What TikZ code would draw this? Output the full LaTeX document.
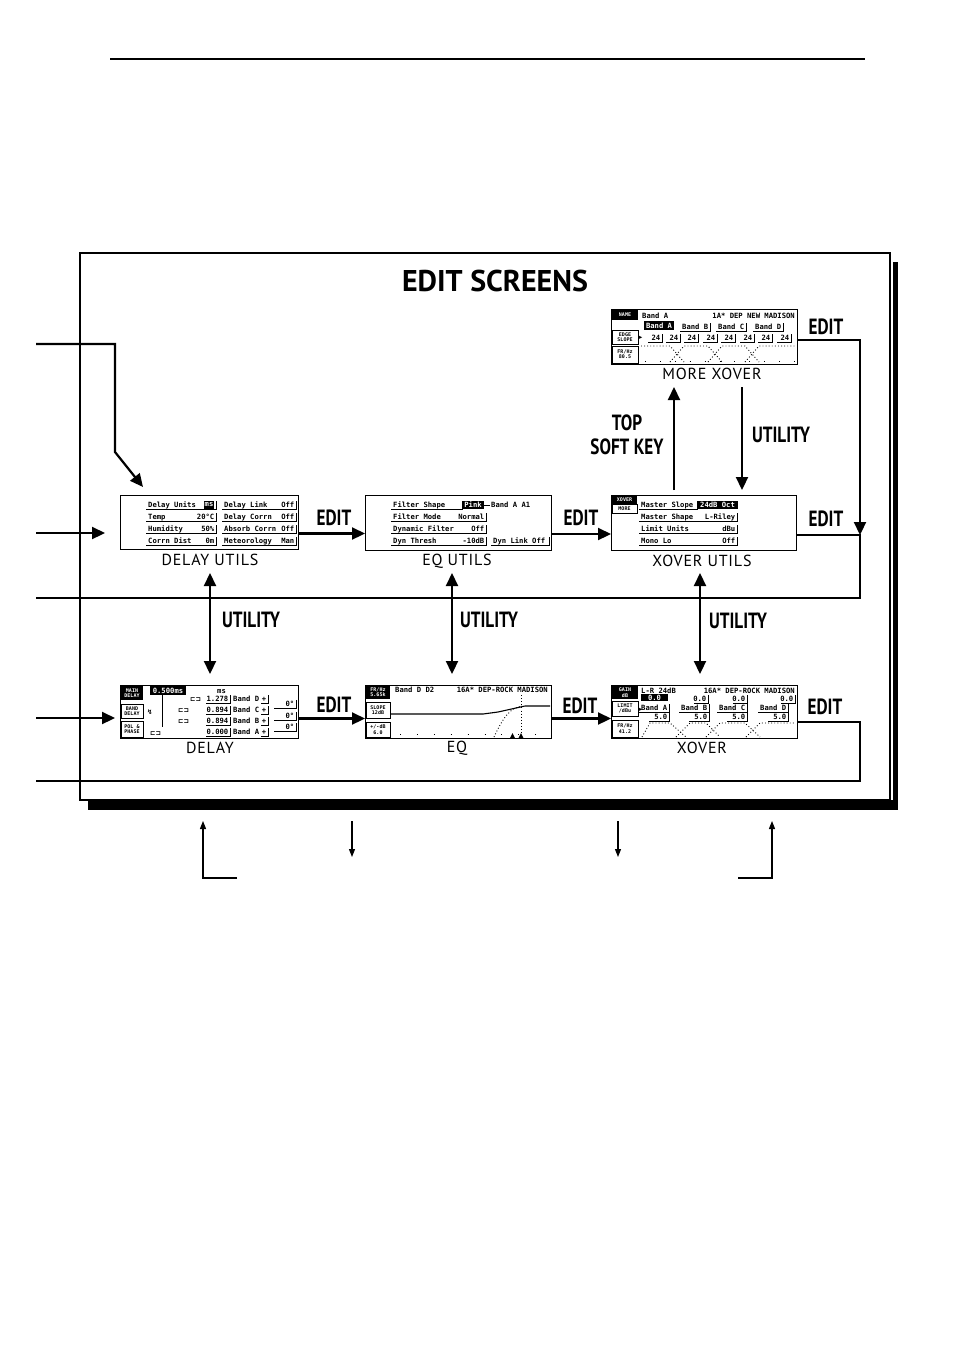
\documentclass[tikz,border=0pt]{standalone}
\usepackage{fontspec}
\setmainfont{PT Sans}
\newfontfamily\hdf[FakeStretch=0.78]{PT Sans}
\newfontfamily\capf[LetterSpace=5]{PT Sans}
\newfontfamily\lcdf{DejaVu Sans Mono}
\newfontfamily\symf{DejaVu Sans}
\usetikzlibrary{arrows.meta,calc}
\newcounter{lc}
\newcommand\lcdT[4][lw]{\stepcounter{lc}\node[#1] (lc\arabic{lc}) at (#2,#3) {#4};}
\newcommand\lcdU[3]{\draw[ul] (#1,#3+2) -- (#2,#3+2) -- (#2,#3-6);}
\newcommand\lcdV[4]{\lcdT[le]{#1-1.5}{#2}{#4}\lcdU{#1-#3}{#1}{#2}}
\newcommand\lcdI[6][tiny2]{\fill (#2,#3) rectangle (#4,#5); \stepcounter{lc}\node[#1, text=white, anchor=center, align=center] (lc\arabic{lc}) at ($(#2,#3)!0.5!(#4,#5)$) {#6};}
\newcommand\lcdB[5]{\draw[line width=0.7pt] (#1,#2) rectangle (#3,#4); \stepcounter{lc}\node[tiny2] (lc\arabic{lc}) at ($(#1,#2)!0.5!(#3,#4)$) {#5};}
\tikzset{
 scr/.style={draw, line width=1pt, inner sep=0pt, anchor=north west, fill=white},
 lcdt/.style={font=\lcdf\bfseries\fontsize{7.2}{8}\selectfont, inner sep=0pt},
 lw/.style={lcdt, anchor=base west},
 le/.style={lcdt, anchor=base east},
 symt/.style={font=\symf\bfseries\fontsize{6.5}{7}\selectfont, inner sep=0pt, anchor=base west},
 tiny2/.style={font=\lcdf\bfseries\fontsize{5}{5.4}\selectfont, inner sep=0pt, align=center, anchor=center},
 ul/.style={line width=0.8pt},
 dotline/.style={line width=0.9pt, dash pattern=on 0.9pt off 2.2pt},
 capt/.style={font=\capf\fontsize{16}{18}\selectfont, inner sep=0pt, anchor=center},
 keylab/.style={font=\hdf\bfseries\fontsize{22}{24}\selectfont, inner sep=0pt, anchor=center, align=center},
 arr/.style={line width=2.2pt, -{Triangle[length=13pt,width=12pt]}},
 darr/.style={line width=2.2pt, {Triangle[length=13pt,width=12pt]}-{Triangle[length=13pt,width=12pt]}},
 thinarr/.style={line width=1.2pt, -{Triangle[length=8pt,width=6pt]}},
 wire/.style={line width=2.2pt}
}
\begin{document}
\begin{tikzpicture}[x=1pt,y=-1pt]
\fill[white] (0,0) rectangle (954,1350);
\useasboundingbox (0,0) rectangle (954,1350);
% top rule
\draw[line width=2pt] (110,59) -- (865,59);
% frame with shadow
\fill (88,800) rectangle (898,810);
\fill (893,262) rectangle (898,810);
\draw[line width=1.6pt] (80,253) rectangle (890,800);
\node[font=\bfseries\fontsize{30}{32}\selectfont, inner sep=0pt] (title) at (495,281) {EDIT SCREENS};

% coordinates for free ends
\coordinate (l1) at (36,344); \coordinate (k1) at (115,344); \coordinate (k2) at (115,452); \coordinate (tip1) at (143,487);
\coordinate (l2) at (36,533); \coordinate (tip2) at (105,533);
\coordinate (l4) at (36,718); \coordinate (tip4) at (115,718);
\coordinate (r1) at (860,340); \coordinate (r2) at (860,535); \coordinate (r3) at (860,598); \coordinate (l3) at (36,598);
\coordinate (r4) at (860,722); \coordinate (r5) at (860,781); \coordinate (l5) at (36,781);

% screens
\node[scr, minimum width=186pt, minimum height=55pt] (mx) at (611,309) {};
\node[scr, minimum width=178pt, minimum height=54pt] (du) at (120,495) {};
\node[scr, minimum width=186pt, minimum height=55pt] (eu) at (365,495) {};
\node[scr, minimum width=185pt, minimum height=55pt] (xu) at (611,495) {};
\node[scr, minimum width=178pt, minimum height=53pt] (dl) at (120,685) {};
\node[scr, minimum width=186pt, minimum height=53pt] (eq) at (365,685) {};
\node[scr, minimum width=186pt, minimum height=53pt] (xo) at (611,685) {};

% captions
\node[capt] (mxl) at (712,374) {MORE XOVER};
\node[capt] (dul) at (210,560) {DELAY UTILS};
\node[capt] (eul) at (457,561) {EQ UTILS};
\node[capt] (xul) at (702,561) {XOVER UTILS};
\node[capt] (dll) at (210,748) {DELAY};
\node[capt] (eql) at (457,748) {EQ};
\node[capt] (xol) at (702,748) {XOVER};

% key labels
\node[keylab] (e1) at (334,518) {EDIT};
\node[keylab] (e2) at (581,518) {EDIT};
\node[keylab] (e3) at (826,519) {EDIT};
\node[keylab] (e4) at (826,327) {EDIT};
\node[keylab] (e5) at (334,705) {EDIT};
\node[keylab] (e6) at (580,706) {EDIT};
\node[keylab] (e7) at (825,707) {EDIT};
\node[keylab] (ut1) at (251,620) {UTILITY};
\node[keylab] (ut2) at (489,620) {UTILITY};
\node[keylab] (ut3) at (738,621) {UTILITY};
\node[keylab] (ut4) at (781,435) {UTILITY};
\node[keylab] (top) at (627,423) {TOP};
\node[keylab] (sk) at (627,447) {SOFT KEY};

% connectors
\draw[arr] ([yshift=-11pt]du.east) -- ([yshift=-11pt]du.east -| eu.west);
\draw[arr] ([yshift=-11pt]eu.east) -- ([yshift=-11pt]eu.east -| xu.west);
\draw[arr] ([yshift=-6.5pt]dl.east) -- ([yshift=-6.5pt]dl.east -| eq.west);
\draw[arr] ([yshift=-6.5pt]eq.east) -- ([yshift=-6.5pt]eq.east -| xo.west);
\draw[arr] (mx.east |- r1) -- (r1) -- (r2);
\draw[wire] (xu.east |- r2) -- (r2) -- (r3) -- (l3);
\draw[wire] (xo.east |- r4) -- (r4) -- (r5) -- (l5);
\draw[arr] (l1) -- (k1) -- (k2) -- (tip1);
\draw[arr] (l2) -- (tip2);
\draw[arr] (l4) -- (tip4);
\coordinate (u1a) at (210,573); \coordinate (u1b) at (210,674);
\coordinate (u2a) at (452,573); \coordinate (u2b) at (452,674);
\coordinate (u3a) at (700,573); \coordinate (u3b) at (700,674);
\draw[darr] (u1a) -- (u1b);
\draw[darr] (u2a) -- (u2b);
\draw[darr] (u3a) -- (u3b);
\coordinate (t1a) at (674,490); \coordinate (t1b) at (674,387);
\coordinate (t2a) at (742,387); \coordinate (t2b) at (742,490);
\draw[arr] (t1a) -- (t1b);
\draw[arr] (t2a) -- (t2b);

% below-frame arrows
\coordinate (b1a) at (237,878); \coordinate (b1b) at (203,878); \coordinate (b1c) at (203,821);
\coordinate (b2a) at (352,821); \coordinate (b2b) at (352,857);
\coordinate (b3a) at (618,821); \coordinate (b3b) at (618,857);
\coordinate (b4a) at (738,878); \coordinate (b4b) at (772,878); \coordinate (b4c) at (772,821);
\draw[thinarr] (b1a) -- (b1b) -- (b1c);
\draw[thinarr] (b2a) -- (b2b);
\draw[thinarr] (b3a) -- (b3b);
\draw[thinarr] (b4a) -- (b4b) -- (b4c);

% ---------- MORE XOVER screen
\lcdI{612}{310}{638}{320}{NAME}
\lcdT{642}{318}{Band A}
\lcdT[le]{795}{318}{1A* DEP NEW  MADISON}
\lcdI[lcdt]{644}{321}{674}{330}{Band A}
\lcdT{682}{329}{Band B}\lcdU{680}{710}{329}
\lcdT{718}{329}{Band C}\lcdU{716}{746}{329}
\lcdT{755}{329}{Band D}\lcdU{753}{783}{329}
\lcdB{612}{330}{638}{344}{EDGE\\SLOPE}
\lcdT[symt]{639}{339}{▸}
\lcdV{662}{340}{14}{24}\lcdV{680}{340}{14}{24}\lcdV{698}{340}{14}{24}\lcdV{717}{340}{14}{24}
\lcdV{735}{340}{14}{24}\lcdV{754}{340}{14}{24}\lcdV{772}{340}{14}{24}\lcdV{791}{340}{14}{24}
\lcdB{612}{346}{638}{363}{FR/Hz\\80.5}
\draw[dotline] (641,346) -- (670,346) -- (684,362);
\draw[dotline] (670,362) -- (684,346) -- (708,346) -- (722,362);
\draw[dotline] (708,362) -- (722,346) -- (745,346) -- (759,362);
\draw[dotline] (745,362) -- (759,346) -- (795,346);
\draw[line width=0.9pt, dash pattern=on 0.9pt off 14pt] (645,361) -- (795,361);

% ---------- DELAY UTILS screen
\lcdT{148}{507}{Delay Units}\lcdI[lcdt]{204}{501}{214}{509}{ms}\lcdU{146}{216}{507}
\lcdT{148}{519}{Temp}\lcdT[le]{214.5}{519}{20°C}\lcdU{146}{216}{519}
\lcdT{148}{531}{Humidity}\lcdT[le]{214.5}{531}{50\%}\lcdU{146}{216}{531}
\lcdT{148}{543}{Corrn Dist}\lcdT[le]{214.5}{543}{0m}\lcdU{146}{216}{543}
\lcdT{224}{507}{Delay Link}\lcdT[le]{294.5}{507}{Off}\lcdU{222}{296}{507}
\lcdT{224}{519}{Delay Corrn}\lcdT[le]{294.5}{519}{Off}\lcdU{222}{296}{519}
\lcdT{224}{531}{Absorb Corrn}\lcdT[le]{294.5}{531}{Off}\lcdU{222}{296}{531}
\lcdT{224}{543}{Meteorology}\lcdT[le]{294.5}{543}{Man}\lcdU{222}{296}{543}

% ---------- EQ UTILS screen
\lcdT{393}{507}{Filter Shape}\lcdI[lcdt]{462}{501}{484}{509}{Pink}\lcdU{391}{462}{507}
\draw[ul] (484,505) -- (490,505);
\lcdT{491}{507}{Band A A1}
\lcdT{393}{519}{Filter Mode}\lcdT[le]{484.5}{519}{Normal}\lcdU{391}{486}{519}
\lcdT{393}{531}{Dynamic Filter}\lcdT[le]{484.5}{531}{Off}\lcdU{391}{486}{531}
\lcdT{393}{543}{Dyn Thresh}\lcdT[le]{484.5}{543}{-10dB}\lcdU{391}{486}{543}
\lcdT{493}{543}{Dyn Link Off}\lcdU{491}{549}{543}

% ---------- XOVER UTILS screen
\lcdI{612}{496}{637}{504}{XOVER}
\lcdB{612}{504}{637}{513}{MORE}
\lcdT{641}{507}{Master Slope}\lcdI[lcdt]{697}{501}{738}{509}{24dB Oct}\lcdU{639}{697}{507}
\lcdT{641}{519}{Master Shape}\lcdT[le]{735.5}{519}{L-Riley}\lcdU{639}{737}{519}
\lcdT{641}{531}{Limit Units}\lcdT[le]{735.5}{531}{dBu}\lcdU{639}{737}{531}
\lcdT{641}{543}{Mono Lo}\lcdT[le]{735.5}{543}{Off}\lcdU{639}{737}{543}

% ---------- DELAY screen
\lcdI{121}{686}{143}{700}{MAIN\\DELAY}
\lcdB{121}{704}{143}{718}{BAND\\DELAY}
\lcdT[symt]{147}{714}{↯}
\lcdB{121}{721}{143}{737}{POL \&\\PHASE}
\lcdT[symt]{150}{735}{⊏⊐}
\draw[ul] (162,686) -- (162,727);
\lcdI[lcdt]{150}{686}{186}{695}{0.500ms}
\lcdT{217}{693}{ms}
\lcdT[symt]{190}{701}{⊏⊐}\lcdV{230}{701}{24}{1.278}\lcdT{233}{701}{Band D}\lcdV{268}{701}{7}{+}
\lcdT[symt]{178}{712}{⊏⊐}\lcdV{230}{712}{24}{0.894}\lcdT{233}{712}{Band C}\lcdV{268}{712}{7}{+}
\lcdT[symt]{178}{723}{⊏⊐}\lcdV{230}{723}{24}{0.894}\lcdT{233}{723}{Band B}\lcdV{268}{723}{7}{+}
\lcdV{230}{734}{24}{0.000}\lcdT{233}{734}{Band A}\lcdV{268}{734}{7}{+}
\lcdV{296}{706}{22}{0°}\lcdV{296}{718}{22}{0°}\lcdV{296}{729}{22}{0°}

% ---------- EQ screen
\lcdI{366}{686}{390}{699}{FR/Hz\\5.65k}
\lcdB{366}{702}{390}{718}{SLOPE\\12dB}
\lcdB{366}{722}{390}{737}{+/-dB\\6.0}
\lcdT{395}{692}{Band D D2}
\lcdT[le]{548}{692}{16A* DEP-ROCK MADISON}
\draw[line width=1.1pt] (391,714) -- (483,714) -- (498,712) -- (525,706) -- (550,706);
\draw[dotline] (494,737) .. controls (504,716) and (510,708) .. (522,706);
\draw[dotline] (521,695) -- (521,737);
\draw[line width=0.9pt, dash pattern=on 0.9pt off 16pt] (400,734) -- (548,734);
\fill (510,738) -- (512.5,733) -- (515,738) -- cycle;
\fill (518.5,738) -- (521,733) -- (523.5,738) -- cycle;

% ---------- XOVER screen
\lcdI{612}{686}{638}{699}{GAIN\\dB}
\lcdT{641}{693}{L-R  24dB}
\lcdT[le]{795}{693}{16A* DEP-ROCK MADISON}
\lcdI[lcdt]{641}{694}{668}{701}{0.0}
\lcdV{708}{701}{14}{0.0}\lcdV{747}{701}{14}{0.0}\lcdV{795}{701}{14}{0.0}
\lcdT{641}{710}{Band A}\lcdU{639}{669}{710}
\lcdT{681}{710}{Band B}\lcdU{679}{709}{710}
\lcdT{719}{710}{Band C}\lcdU{717}{747}{710}
\lcdT{760}{710}{Band D}\lcdU{758}{788}{710}
\lcdV{669}{719}{20}{5.0}\lcdV{709}{719}{20}{5.0}\lcdV{747}{719}{20}{5.0}\lcdV{788}{719}{20}{5.0}
\lcdB{612}{701}{638}{716}{LIMIT\\/dBu}
\lcdT[symt]{639}{711}{▸}
\lcdB{612}{720}{638}{737}{FR/Hz\\41.2}
\draw[dotline] (642,737) -- (650,723) -- (670,723) -- (686,737);
\draw[dotline] (676,737) -- (690,723) -- (706,723) -- (720,737);
\draw[dotline] (706,737) -- (720,723) -- (745,723) -- (760,737);
\draw[dotline] (746,737) -- (760,723) -- (795,723);
\end{tikzpicture}
\end{document}
